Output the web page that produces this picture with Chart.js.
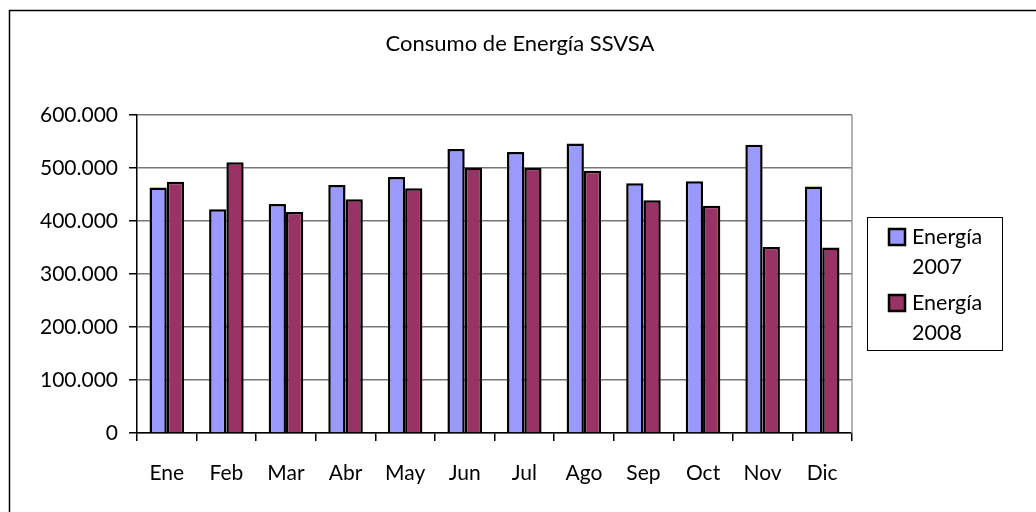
<!DOCTYPE html>
<html>
<head>
<meta charset="utf-8">
<script src="https://cdn.jsdelivr.net/npm/chart.js@4/dist/chart.umd.min.js"></script>
<style>
  html, body { margin: 0; padding: 0; background: #fff; }
  #wrap { width: 1036px; height: 512px; }
</style>
</head>
<body>
<div id="wrap"><canvas id="plot" width="1036" height="512"></canvas></div>
<script>
const months = ['Ene', 'Feb', 'Mar', 'Abr', 'May', 'Jun', 'Jul', 'Ago', 'Sep', 'Oct', 'Nov', 'Dic'];
const energia2007 = [463000, 422000, 432000, 468000, 483000, 536000, 530000, 546000, 471000, 475000, 544000, 465000];
const energia2008 = [474000, 511000, 417000, 441000, 462000, 501000, 500000, 495000, 439000, 429000, 351000, 350000];
const seriesNames = [['Energía', '2007'], ['Energía', '2008']];
const chartTitle = 'Consumo de Energía SSVSA';

const FONT = 'Lato, "Open Sans", sans-serif';

function fmt(v) {
    return String(v).replace(/\B(?=(\d{3})+(?!\d))/g, '.');
}

// outer frame, title across the whole page, right plot border and the boxed legend
const framePlugin = {
    id: 'frame',
    afterDraw(chart) {
        const ctx = chart.ctx;
        const a = chart.chartArea;
        ctx.save();
        ctx.strokeStyle = '#000';
        ctx.lineWidth = 1.5;
        ctx.beginPath();
        ctx.moveTo(9.5, 512);
        ctx.lineTo(9.5, 10.5);
        ctx.lineTo(1036, 10.5);
        ctx.stroke();

        ctx.fillStyle = '#000';
        ctx.font = '22px ' + FONT;
        ctx.textAlign = 'center';
        ctx.textBaseline = 'middle';
        ctx.fillText(chartTitle, 520, 44);

        ctx.strokeStyle = '#999';
        ctx.lineWidth = 1.5;
        ctx.beginPath();
        ctx.moveTo(a.right, a.top);
        ctx.lineTo(a.right, a.bottom);
        ctx.stroke();

        // legend
        ctx.strokeStyle = '#000';
        ctx.lineWidth = 1;
        ctx.strokeRect(867.5, 217.5, 135, 133);
        ctx.font = '21.5px ' + FONT;
        ctx.textAlign = 'left';
        const rows = [237, 303];
        chart.data.datasets.forEach((ds, i) => {
            const y = rows[i];
            ctx.fillStyle = ds.backgroundColor;
            ctx.fillRect(889, y - 8, 16, 16);
            ctx.lineWidth = 2.5;
            ctx.strokeRect(889, y - 8, 16, 16);
            ctx.fillStyle = '#000';
            ds.label.forEach((t, j) => ctx.fillText(t, 912, y + j * 30));
        });
        ctx.restore();
    }
};

new Chart(document.getElementById('plot'), {
    type: 'bar',
    data: {
        labels: months,
        datasets: [
            {
                label: seriesNames[0],
                data: energia2007,
                backgroundColor: '#9999FF',
                borderColor: '#000',
                borderWidth: 2.5
            },
            {
                label: seriesNames[1],
                data: energia2008,
                backgroundColor: '#993366',
                borderColor: '#000',
                borderWidth: 2.5
            }
        ]
    },
    options: {
        responsive: false,
        animation: false,
        layout: { padding: { left: 0, right: 184, top: 115, bottom: 0 } },
        datasets: {
            bar: { barPercentage: 1, categoryPercentage: 0.58 }
        },
        scales: {
            x: {
                afterFit: s => { s.height = 79; },
                grid: {
                    offset: true,
                    drawOnChartArea: false,
                    tickLength: 8,
                    tickColor: '#000',
                    lineWidth: 1.5
                },
                border: { color: '#000', width: 1.5 },
                ticks: {
                    color: '#000',
                    padding: 20,
                    font: { family: FONT, size: 21 }
                }
            },
            y: {
                min: 0,
                max: 600000,
                afterFit: s => { s.width = 137; },
                grid: {
                    color: '#777',
                    lineWidth: 1.5,
                    tickLength: 8,
                    tickColor: '#000'
                },
                border: { color: '#000', width: 1.5 },
                ticks: {
                    stepSize: 100000,
                    color: '#000',
                    padding: 11,
                    font: { family: FONT, size: 21 },
                    callback: v => fmt(v)
                }
            }
        },
        plugins: {
            legend: { display: false },
            tooltip: { enabled: false },
            title: { display: false }
        }
    },
    plugins: [framePlugin]
});
</script>
</body>
</html>
